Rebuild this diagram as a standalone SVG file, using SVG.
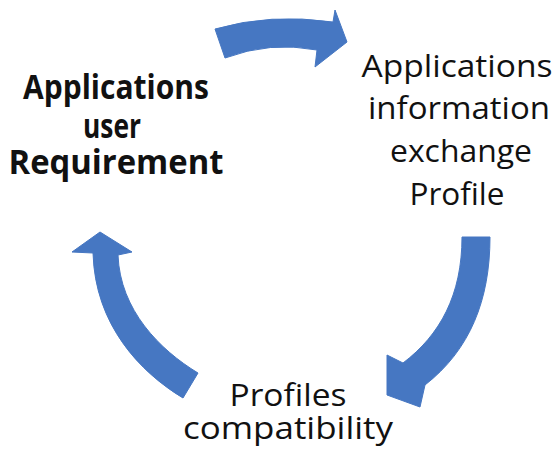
<svg xmlns="http://www.w3.org/2000/svg" width="560" height="457" viewBox="0 0 560 457">
<style>
.arrow{fill:#4677c2;stroke:#4677c2;stroke-width:1;stroke-linejoin:round}
.lbl{font-family:"Open Sans","DejaVu Sans",sans-serif;font-size:31px;fill:#111;text-anchor:middle}
.bold{font-weight:bold;font-size:34px}
</style>
<rect width="560" height="457" fill="#ffffff"/>
<g id="connectors">
<path class="arrow" d="M215,29 Q270,13 333,22 L335,10 L347,42 L315,67 L317,50 Q270,41 225,58 Z"/>
<path class="arrow" d="M462,237 L490,237 C490,300 470,350 425,385 L420,407 L387,395 L387,355 L403,363 C440,335 462,295 462,237 Z"/>
<path class="arrow" d="M183,398 C140,372 95,325 93,253 L72,252 L100,232 L132,252 L118,255 C120,310 160,350 198,373 Z"/>
</g>
<g id="node-requirement">
<text class="lbl bold" x="116" y="99" textLength="186" lengthAdjust="spacingAndGlyphs">Applications</text>
<text class="lbl bold" x="112" y="138" textLength="58" lengthAdjust="spacingAndGlyphs">user</text>
<text class="lbl bold" x="116" y="174" textLength="215" lengthAdjust="spacingAndGlyphs">Requirement</text>
</g>
<g id="node-exchange">
<text class="lbl" x="457" y="77" textLength="191" lengthAdjust="spacingAndGlyphs">Applications</text>
<text class="lbl" x="459" y="119" textLength="182" lengthAdjust="spacingAndGlyphs">information</text>
<text class="lbl" x="461" y="162" textLength="142" lengthAdjust="spacingAndGlyphs">exchange</text>
<text class="lbl" x="457" y="205" textLength="95" lengthAdjust="spacingAndGlyphs">Profile</text>
</g>
<g id="node-compatibility">
<text class="lbl" x="288" y="406" textLength="117" lengthAdjust="spacingAndGlyphs">Profiles</text>
<text class="lbl" x="288" y="439" textLength="210" lengthAdjust="spacingAndGlyphs">compatibility</text>
</g>
</svg>
